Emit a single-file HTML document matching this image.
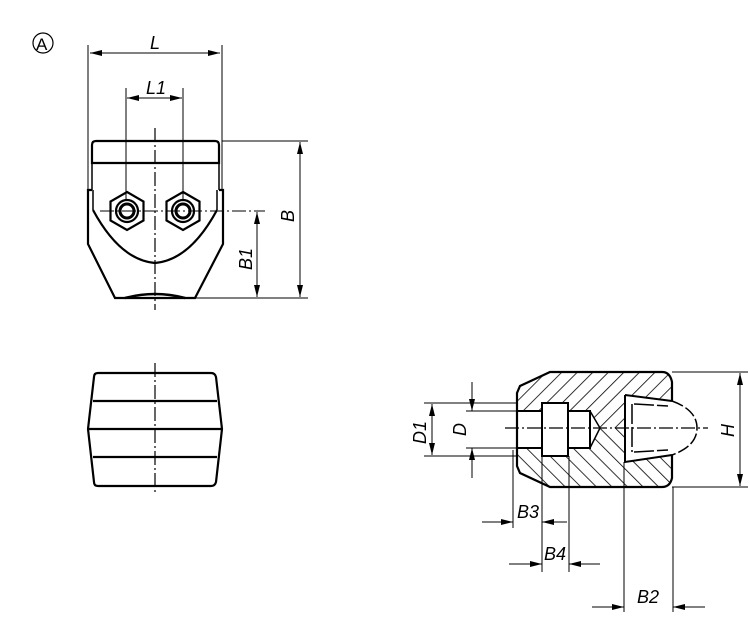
<!DOCTYPE html>
<html><head><meta charset="utf-8"><style>
html,body{margin:0;padding:0;background:#fff;}
svg{display:block;}
text{font-family:"Liberation Sans",sans-serif;font-style:italic;font-size:18px;fill:#000;}
</style></head><body>
<svg width="750" height="617" viewBox="0 0 750 617" xmlns="http://www.w3.org/2000/svg">
<defs>
<marker id="a" viewBox="0 0 12 6" refX="12" refY="3" markerWidth="12" markerHeight="6" orient="auto-start-reverse" markerUnits="userSpaceOnUse"><path d="M0,0 L12,3 L0,6 Z" fill="#000"/></marker>
<pattern id="h1" width="11" height="11" patternUnits="userSpaceOnUse" patternTransform="rotate(45)"><line x1="0" y1="0" x2="0" y2="11" stroke="#000" stroke-width="1.6"/></pattern>
<pattern id="h2" width="11" height="11" patternUnits="userSpaceOnUse" patternTransform="rotate(-45)"><line x1="0" y1="0" x2="0" y2="11" stroke="#000" stroke-width="1.6"/></pattern>
<clipPath id="up"><rect x="500" y="360" width="200" height="68"/></clipPath>
<clipPath id="dn"><rect x="500" y="428" width="200" height="80"/></clipPath>
</defs>
<g fill="none" stroke="#000">
<circle cx="43" cy="43" r="10" stroke-width="1.2"/>
<path d="M96,141 L215,141 Q219,141 219,145 L219,163 L92,163 L92,145 Q92,141 96,141 Z" stroke-width="2.2"/>
<path d="M92,163 L92,190 M219,163 L219,190" stroke-width="1.5"/>
<path d="M92,190 L88,190 L88,244 L115,298 L195,298 L223,244 L223,190 L219,190" stroke-width="2.2"/>
<path d="M93,210 Q120,260 155,263 Q190,260 217,210" stroke-width="2.2"/>
<path d="M93,190 L93,210 M217,190 L217,210" stroke-width="1.5"/>
<path d="M125,298 Q155,290 185,298" stroke-width="2.5"/>
<g stroke-width="2.2">
<polygon points="127,192 143.5,201.5 143.5,220.5 127,230 110.5,220.5 110.5,201.5"/>
<polygon points="183,192 199.5,201.5 199.5,220.5 183,230 166.5,220.5 166.5,201.5"/>
<circle cx="127" cy="211" r="11"/><circle cx="183" cy="211" r="11"/>
<circle cx="127" cy="211" r="7" stroke-width="3"/><circle cx="183" cy="211" r="7" stroke-width="3"/>
</g>
<line x1="155" y1="128" x2="155" y2="310" stroke-width="1.2" stroke-dasharray="14,3,2,3"/>
<line x1="100" y1="211" x2="265" y2="211" stroke-width="1" stroke-dasharray="14,3,2,3"/>
<g stroke-width="1">
<line x1="88" y1="45" x2="88" y2="190"/><line x1="222" y1="45" x2="222" y2="190"/>
<line x1="90" y1="53" x2="220" y2="53" marker-start="url(#a)" marker-end="url(#a)"/>
<line x1="126" y1="88" x2="126" y2="200"/><line x1="183" y1="88" x2="183" y2="200"/>
<line x1="127" y1="98" x2="182" y2="98" marker-start="url(#a)" marker-end="url(#a)"/>
<line x1="222" y1="141" x2="308" y2="141"/><line x1="196" y1="298" x2="308" y2="298"/>
<line x1="300" y1="142" x2="300" y2="297" marker-start="url(#a)" marker-end="url(#a)"/>
<line x1="257" y1="212" x2="257" y2="297" marker-start="url(#a)" marker-end="url(#a)"/>
</g>
<path d="M98,373 L211,373 Q215,373 216,377 L222,429 L216,482 Q215,486 211,486 L98,486 Q94,486 94,482 L88,429 L94,377 Q94,373 98,373 Z" stroke-width="2.2"/>
<path d="M93,401 L217,401 M89,429 L221,429 M93,457 L217,457" stroke-width="2.2"/>
<line x1="155" y1="363" x2="155" y2="493" stroke-width="1.2" stroke-dasharray="14,3,2,3"/>
<g stroke="none">
<path clip-path="url(#up)" fill="url(#h1)" fill-rule="evenodd" d="M550,372 L662,372 Q670,372 672,382 L672,478 Q670,487 662,487 L550,487 L520,473 L517,466 L517,393 L520,386 Z M517,411 L542,411 L542,403 L568,403 L568,411 L590,411 L600,428 L590,448 L568,448 L568,456 L542,456 L542,448 L517,448 Z M625,395 L672,401 L672,455 L625,462 Z"/>
<path clip-path="url(#dn)" fill="url(#h2)" fill-rule="evenodd" d="M550,372 L662,372 Q670,372 672,382 L672,478 Q670,487 662,487 L550,487 L520,473 L517,466 L517,393 L520,386 Z M517,411 L542,411 L542,403 L568,403 L568,411 L590,411 L600,428 L590,448 L568,448 L568,456 L542,456 L542,448 L517,448 Z M625,395 L672,401 L672,455 L625,462 Z"/>
</g>
<path d="M672,401 L672,382 Q670,372 662,372 L550,372 L520,386 L517,393 L517,466 L520,473 L550,487 L662,487 Q670,487 672,478 L672,455" stroke-width="2.2"/>
<path d="M517,411 L542,411 M542,403 L568,403 L568,456 L542,456 Z M568,411 L590,411 L590,448 L568,448 M517,448 L542,448" stroke-width="2"/>
<path d="M590,411 L600,428 L590,448" stroke-width="1.5"/>
<path d="M625,395 L672,401 M625,395 L625,462 L672,455" stroke-width="2"/>
<path d="M632,404 L632,452 M634,404 L668,406 M634,452 L668,450" stroke-width="1.5" stroke-dasharray="20,3"/>
<path d="M672,401 Q697,410 697,428 Q697,446 672,455" stroke-width="1.5" stroke-dasharray="12,3"/>
<line x1="505" y1="428" x2="708" y2="428" stroke-width="1.2" stroke-dasharray="14,3,2,3"/>
<g stroke-width="1">
<line x1="672" y1="372" x2="748" y2="372"/><line x1="672" y1="487" x2="748" y2="487"/>
<line x1="740" y1="373" x2="740" y2="486" marker-start="url(#a)" marker-end="url(#a)"/>
<line x1="424" y1="403" x2="517" y2="403"/><line x1="424" y1="456" x2="517" y2="456"/>
<line x1="432" y1="404" x2="432" y2="455" marker-start="url(#a)" marker-end="url(#a)"/>
<line x1="466" y1="411" x2="517" y2="411"/><line x1="466" y1="448" x2="517" y2="448"/>
<line x1="472" y1="382" x2="472" y2="411" marker-end="url(#a)"/>
<line x1="472" y1="478" x2="472" y2="448" marker-end="url(#a)"/>
<line x1="513" y1="450" x2="513" y2="528"/><line x1="542" y1="456" x2="542" y2="572"/>
<line x1="569" y1="456" x2="569" y2="572"/>
<line x1="482" y1="522" x2="513" y2="522" marker-end="url(#a)"/>
<line x1="567" y1="522" x2="542" y2="522" marker-end="url(#a)"/>
<line x1="509" y1="564" x2="542" y2="564" marker-end="url(#a)"/>
<line x1="600" y1="564" x2="569" y2="564" marker-end="url(#a)"/>
<line x1="624" y1="462" x2="624" y2="612"/><line x1="673" y1="487" x2="673" y2="612"/>
<line x1="592" y1="607" x2="624" y2="607" marker-end="url(#a)"/>
<line x1="705" y1="607" x2="673" y2="607" marker-end="url(#a)"/>
</g>
</g>
<text x="36" y="50" style="font-style:normal;font-size:17px">A</text>
<text x="150" y="49">L</text>
<text x="146" y="94">L1</text>
<text transform="translate(294,222) rotate(-90)">B</text>
<text transform="translate(252,270) rotate(-90)">B1</text>
<text transform="translate(734,437) rotate(-90)">H</text>
<text transform="translate(426,444) rotate(-90)">D1</text>
<text transform="translate(466,436) rotate(-90)">D</text>
<text x="517" y="518">B3</text>
<text x="544" y="560">B4</text>
<text x="637" y="603">B2</text>
</svg>
</body></html>
